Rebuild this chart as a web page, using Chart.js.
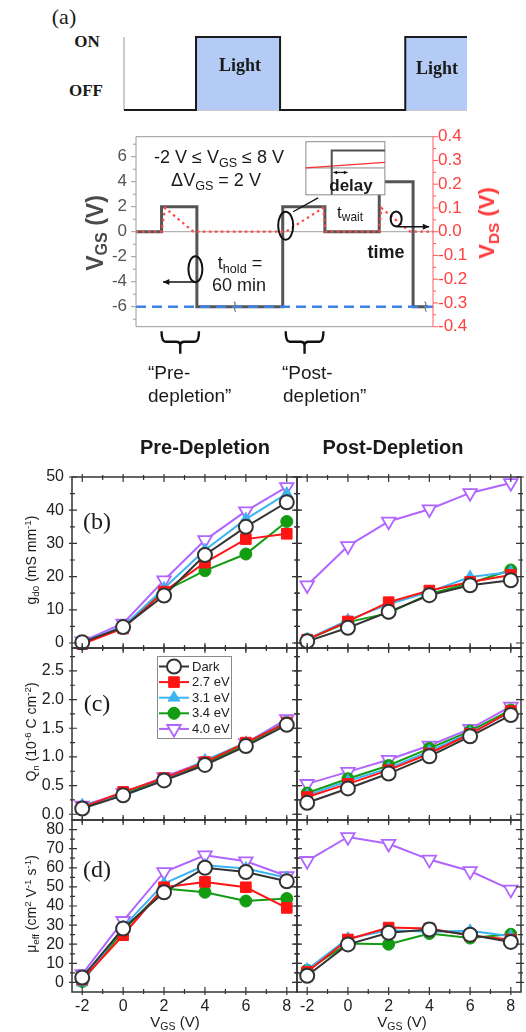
<!DOCTYPE html>
<html>
<head>
<meta charset="utf-8">
<script src="https://cdn.jsdelivr.net/npm/chart.js@4.4.1/dist/chart.umd.min.js"></script>
<style>
  html, body { margin: 0; padding: 0; background: #fff; }
  #page { position: relative; width: 526px; height: 1032px; overflow: hidden;
          font-family: "Liberation Sans", Arial, sans-serif; color: #1a1a1a; }
  #page canvas { position: absolute; }
  .t { position: absolute; white-space: nowrap; line-height: 1; transform: translate(-50%, -50%); }
  .t.l { transform: translate(0, -50%); }
  .t.rot { transform: translate(-50%, -50%) rotate(-90deg); }
  .serif { font-family: "Liberation Serif", "Times New Roman", serif; }
  sub { font-size: 0.7em; vertical-align: -0.3em; line-height: 0; }
  sup { font-size: 0.7em; vertical-align: 0.55em; line-height: 0; }
</style>
</head>
<body>
<div id="page"></div>
<script>
// ---- (a) light pulses: time (a.u.) and ON/OFF level
const lightTime = [0, 21, 21, 45.5, 45.5, 82, 82, 100];
const lightLevel = [0, 0, 1, 1, 0, 0, 1, 1];

// ---- (a) bias sequence: time (a.u.), VGS (V), VDS (V)
const waveTime = [0, 8.6, 8.6, 20.5, 20.5, 49.4, 49.4, 63.6, 63.6, 81.9, 81.9, 93.3, 93.3, 98.3];
const vgsWave = [0, 0, 2, 2, -6, -6, 2, 2, 0, 0, 4, 4, -6, -6];
const vdsTime = [0, 8.6, 9.8, 19.3, 50.4, 63.0, 63.9, 81.9, 82.6, 92.3, 100];
const vdsWave = [0, 0, 0.1, 0, 0, 0.1, 0, 0, 0.1, 0, 0];
const vgsTicks = [-6, -4, -2, 0, 2, 4, 6];
const vgsMinor = [-7, -5, -3, -1, 1, 3, 5, 7];
const vdsTicks = [-0.4, -0.3, -0.2, -0.1, 0, 0.1, 0.2, 0.3, 0.4];
const vdsMinor = [-0.35, -0.25, -0.15, -0.05, 0.05, 0.15, 0.25, 0.35];

// ---- (b)-(d) measurements
const vgs = [-2, 0, 2, 4, 6, 8];
const xTicks = [-2, 0, 2, 4, 6, 8];
const xMinor = [-1, 1, 3, 5, 7];

const gPreDark = [0.2, 4.8, 14.3, 26.5, 35.0, 42.4];
const gPre27 = [-0.3, 4.4, 15.5, 24.2, 31.3, 32.9];
const gPre31 = [0.2, 5.0, 16.5, 28.0, 37.3, 45.0];
const gPre34 = [0.0, 4.9, 15.6, 21.8, 26.8, 36.6];
const gPre40 = [0.5, 5.9, 18.9, 31.0, 39.7, 47.0];
const gPostDark = [0.5, 4.6, 9.4, 14.4, 17.4, 18.9];
const gPost27 = [1.0, 6.5, 12.3, 15.8, 18.4, 20.5];
const gPost31 = [1.2, 6.9, 11.7, 15.4, 19.9, 21.4];
const gPost34 = [1.0, 6.3, 9.0, 14.8, 18.0, 22.0];
const gPost40 = [17.4, 29.2, 36.6, 40.3, 45.2, 48.2];
const gTicks = [0, 10, 20, 30, 40, 50];
const gMinor = [5, 15, 25, 35, 45];

const qPreDark = [0.10, 0.33, 0.59, 0.86, 1.19, 1.56];
const qPre27 = [0.12, 0.39, 0.63, 0.91, 1.25, 1.60];
const qPre31 = [0.16, 0.32, 0.60, 0.94, 1.25, 1.61];
const qPre34 = [0.12, 0.35, 0.61, 0.89, 1.22, 1.60];
const qPre40 = [0.15, 0.37, 0.65, 0.92, 1.24, 1.66];
const qPostDark = [0.20, 0.45, 0.71, 1.01, 1.36, 1.73];
const qPost27 = [0.30, 0.53, 0.77, 1.06, 1.40, 1.80];
const qPost31 = [0.33, 0.58, 0.80, 1.10, 1.42, 1.78];
const qPost34 = [0.37, 0.62, 0.85, 1.15, 1.45, 1.82];
const qPost40 = [0.53, 0.74, 0.95, 1.20, 1.49, 1.88];
const qTicks = [0, 0.5, 1.0, 1.5, 2.0, 2.5];
const qMinor = [0.25, 0.75, 1.25, 1.75, 2.25, 2.75];

const mPreDark = [2.6, 28.2, 47.2, 60.0, 57.8, 52.9];
const mPre27 = [1.5, 24.7, 49.8, 52.6, 49.8, 39.0];
const mPre31 = [0.0, 29.0, 51.7, 61.3, 59.6, 54.8];
const mPre34 = [0.5, 27.0, 49.2, 47.2, 42.6, 43.9];
const mPre40 = [4.4, 32.2, 57.8, 66.5, 63.4, 55.7];
const mPostDark = [3.5, 19.9, 26.0, 27.7, 25.0, 21.2];
const mPost27 = [5.5, 22.5, 28.7, 28.2, 24.5, 22.5];
const mPost31 = [6.8, 23.0, 27.3, 26.5, 27.0, 24.2];
const mPost34 = [6.4, 20.4, 20.0, 25.6, 23.2, 25.2];
const mPost40 = [63.6, 76.1, 72.6, 64.3, 58.3, 48.6];
const mTicks = [0, 10, 20, 30, 40, 50, 60, 70, 80];
const mMinor = [5, 15, 25, 35, 45, 55, 65, 75];

const seriesNames = ["Dark", "2.7 eV", "3.1 eV", "3.4 eV", "4.0 eV"];

const seriesStyle = [
  { color: "#333333", fill: "#ffffff", shape: "circle", r: 7, bw: 2 },
  { color: "#ff1414", fill: "#ff1414", shape: "rect", r: 7.5, bw: 1 },
  { color: "#3cb4f2", fill: "#3cb4f2", shape: "triangle", r: 6.8, bw: 1 },
  { color: "#129c12", fill: "#129c12", shape: "circle", r: 6, bw: 1 },
  { color: "#b065ff", fill: "#ffffff", shape: "triangle", r: 7.8, bw: 1.8, rot: 180 }
];

Chart.defaults.font.family = '"Liberation Sans", Arial, sans-serif';
Chart.defaults.color = "#222";
Chart.defaults.animation = false;
Chart.defaults.events = [];
Chart.defaults.plugins.legend.display = false;
Chart.defaults.plugins.tooltip.enabled = false;

const page = document.getElementById("page");
const noGrid = { display: false, drawTicks: false };

function mount(area, box, axes) {
  const c = document.createElement("canvas");
  const w = box.r - box.l, h = box.b - box.t;
  c.width = w; c.height = h;
  c.style.left = box.l + "px"; c.style.top = box.t + "px";
  c.style.width = w + "px"; c.style.height = h + "px";
  page.appendChild(c);
  return {
    canvas: c,
    padding: {
      left: area.l - box.l - (axes.left || 0),
      right: box.r - area.r - (axes.right || 0),
      top: area.t - box.t,
      bottom: box.b - area.b - (axes.bottom || 0)
    }
  };
}

function fixSize(size) {
  return (s) => {
    if (s.isHorizontal()) s.height = size; else s.width = size;
    s.paddingTop = s.paddingBottom = s.paddingLeft = s.paddingRight = 0;
  };
}

function useTicks(list) {
  return (s) => { s.ticks = list.map((v) => ({ value: v })); };
}

function label(html, x, y, style, cls) {
  const d = document.createElement("div");
  d.className = "t " + (cls || "");
  d.innerHTML = html;
  d.style.cssText = "left:" + x + "px;top:" + y + "px;" + (style || "");
  page.appendChild(d);
}

function arrow(ctx, x1, y1, x2, y2, head) {
  ctx.beginPath(); ctx.moveTo(x1, y1); ctx.lineTo(x2, y2); ctx.stroke();
  const ang = Math.atan2(y2 - y1, x2 - x1);
  ctx.beginPath();
  ctx.moveTo(x2, y2);
  ctx.lineTo(x2 - head * Math.cos(ang - 0.45), y2 - head * Math.sin(ang - 0.45));
  ctx.lineTo(x2 - head * Math.cos(ang + 0.45), y2 - head * Math.sin(ang + 0.45));
  ctx.closePath(); ctx.fill();
}

function xy(xs, ys) {
  return xs.map((x, i) => ({ x: x, y: ys[i] }));
}

// ---------- light ON/OFF strip
(function () {
  const area = { l: 124, r: 467, t: 37, b: 110 };
  const m = mount(area, { l: 110, r: 480, t: 25, b: 122 }, {});
  const axes = {
    id: "lightAxes",
    beforeDatasetsDraw(chart) {
      const { ctx, chartArea: a } = chart;
      ctx.save();
      ctx.strokeStyle = "#9a9a9a"; ctx.lineWidth = 1;
      ctx.beginPath();
      ctx.moveTo(a.left, a.top); ctx.lineTo(a.left, a.bottom); ctx.lineTo(a.right, a.bottom);
      ctx.stroke();
      ctx.restore();
    }
  };
  new Chart(m.canvas, {
    type: "scatter",
    data: {
      datasets: [{
        data: xy(lightTime, lightLevel),
        showLine: true, fill: "origin",
        borderColor: "#1a1a1a", borderWidth: 2, backgroundColor: "#b3cbf5",
        pointRadius: 0, clip: false
      }]
    },
    options: {
      responsive: false,
      layout: { padding: m.padding, autoPadding: false },
      scales: {
        x: { type: "linear", min: 0, max: 100, ticks: { display: false }, grid: noGrid,
             border: { display: false }, afterFit: fixSize(0) },
        y: { min: 0, max: 1, ticks: { display: false }, grid: noGrid,
             border: { display: false }, afterFit: fixSize(0) }
      }
    },
    plugins: [axes]
  });
})();

// ---------- bias sequence diagram
(function () {
  const area = { l: 136, r: 433, t: 136.7, b: 326.7 };
  const m = mount(area, { l: 60, r: 526, t: 120, b: 365 }, { left: 40, right: 40 });
  const schematic = {
    id: "schematic",
    afterDraw(chart) {
      const { ctx, chartArea: a, scales } = chart;
      const px = (t) => scales.x.getPixelForValue(t);
      const py = (v) => scales.y.getPixelForValue(v);
      const pr = (v) => scales.y2.getPixelForValue(v);
      ctx.save();
      // frame
      ctx.lineWidth = 1;
      ctx.strokeStyle = "#9a9a9a";
      ctx.beginPath();
      ctx.moveTo(a.right, a.top); ctx.lineTo(a.left, a.top);
      ctx.lineTo(a.left, a.bottom); ctx.lineTo(a.right, a.bottom);
      ctx.stroke();
      ctx.beginPath();
      vgsTicks.forEach((v) => { ctx.moveTo(a.left - 5, py(v)); ctx.lineTo(a.left, py(v)); });
      vgsMinor.forEach((v) => { ctx.moveTo(a.left - 3, py(v)); ctx.lineTo(a.left, py(v)); });
      ctx.stroke();
      ctx.strokeStyle = "#ff5a5a";
      ctx.beginPath();
      ctx.moveTo(a.right, a.top); ctx.lineTo(a.right, a.bottom);
      vdsTicks.forEach((v) => { ctx.moveTo(a.right, pr(v)); ctx.lineTo(a.right + 5, pr(v)); });
      vdsMinor.forEach((v) => { ctx.moveTo(a.right, pr(v)); ctx.lineTo(a.right + 3, pr(v)); });
      ctx.stroke();

      // break marks on the -6 V level
      ctx.strokeStyle = "#777"; ctx.lineWidth = 1.2;
      [33.3, 97.5].forEach((t) => {
        const cx = px(t), cy = py(-6);
        ctx.beginPath();
        ctx.moveTo(cx - 1, cy - 5);
        ctx.bezierCurveTo(cx + 3, cy - 3, cx - 3, cy + 2, cx + 1, cy + 5);
        ctx.stroke();
      });

      // inset: delay detail
      const il = px(57.2), ir = px(83.8), it = py(7.2), ib = py(2.95);
      ctx.fillStyle = "#fff"; ctx.fillRect(il, it, ir - il, ib - it);
      ctx.strokeStyle = "#8a8a8a"; ctx.lineWidth = 1;
      ctx.strokeRect(il, it, ir - il, ib - it);
      ctx.beginPath(); ctx.moveTo(il, py(5.1)); ctx.lineTo(ir, py(5.1)); ctx.stroke();
      ctx.strokeStyle = "#ff3030"; ctx.lineWidth = 1.2;
      ctx.beginPath(); ctx.moveTo(il, py(5.1)); ctx.lineTo(ir, py(5.55)); ctx.stroke();
      ctx.strokeStyle = "#505050"; ctx.lineWidth = 2;
      ctx.beginPath(); ctx.moveTo(px(65.9), ib); ctx.lineTo(px(65.9), py(6.5)); ctx.lineTo(ir, py(6.5)); ctx.stroke();
      ctx.strokeStyle = "#111"; ctx.fillStyle = "#111"; ctx.lineWidth = 1.3;
      arrow(ctx, px(68.8), py(4.74), px(71.2), py(4.74), 4);
      arrow(ctx, px(68.8), py(4.74), px(66.5), py(4.74), 4);
      ctx.beginPath(); ctx.moveTo(px(61.3), py(2.71)); ctx.lineTo(px(52.9), py(1.6)); ctx.stroke();

      // ellipses and arrows pointing to their axes
      ctx.lineWidth = 2;
      ctx.beginPath(); ctx.ellipse(px(50.4), py(0.48), 7.5, 14, 0, 0, 2 * Math.PI); ctx.stroke();
      ctx.beginPath(); ctx.ellipse(px(20.0), py(-3.0), 7, 13, 0, 0, 2 * Math.PI); ctx.stroke();
      ctx.beginPath(); ctx.ellipse(px(87.6), py(1.02), 5.5, 7.5, 0, 0, 2 * Math.PI); ctx.stroke();
      ctx.lineWidth = 1.6;
      arrow(ctx, px(19.9), py(-4.02), px(9.1), py(-4.02), 7);
      arrow(ctx, px(87.9), py(0.4), px(98.7), py(0.4), 7);

      // braces under the sampled pulses
      ctx.strokeStyle = "#111"; ctx.lineWidth = 2.4;
      [[8.6, 21.2], [50.4, 63.1]].forEach(([t0, t1]) => {
        const l = px(t0), r = px(t1), c = (l + r) / 2;
        const top = a.bottom + 4.5, mid = a.bottom + 15, bot = a.bottom + 27, k = 4;
        ctx.beginPath();
        ctx.moveTo(l, top); ctx.quadraticCurveTo(l, mid, l + k, mid);
        ctx.lineTo(c - k, mid); ctx.quadraticCurveTo(c, mid, c, mid + k); ctx.lineTo(c, bot);
        ctx.moveTo(r, top); ctx.quadraticCurveTo(r, mid, r - k, mid);
        ctx.lineTo(c + k, mid); ctx.quadraticCurveTo(c, mid, c, mid + k);
        ctx.stroke();
      });
      ctx.restore();
    }
  };
  new Chart(m.canvas, {
    type: "scatter",
    data: {
      datasets: [
        { data: xy([0, 100], [-6, -6]), showLine: true, borderColor: "#3a82ea", borderWidth: 2.6,
          borderDash: [10, 6], pointRadius: 0, clip: false },
        { data: xy(vdsTime, vdsWave), yAxisID: "y2", showLine: true, borderColor: "#ff4a4a",
          borderWidth: 2.2, borderDash: [2.5, 3.5], pointRadius: 0, clip: false },
        { data: xy(waveTime, vgsWave), showLine: true, borderColor: "#555555", borderWidth: 3,
          pointRadius: 0, clip: false },
        { data: xy([0, 100], [0, 0]), showLine: true, borderColor: "#a0a0a0", borderWidth: 1,
          pointRadius: 0, clip: false }
      ]
    },
    options: {
      responsive: false,
      layout: { padding: m.padding, autoPadding: false },
      scales: {
        x: { type: "linear", min: 0, max: 100, ticks: { display: false }, grid: noGrid,
             border: { display: false }, afterFit: fixSize(0) },
        y: { position: "left", min: -7.6, max: 7.6, afterBuildTicks: useTicks(vgsTicks),
             grid: noGrid, border: { display: false }, afterFit: fixSize(40),
             ticks: { padding: 9, color: "#555", font: { size: 17 }, autoSkip: false,
                      callback: (v) => String(v) } },
        y2: { position: "right", min: -0.4, max: 0.4, afterBuildTicks: useTicks(vdsTicks),
              grid: noGrid, border: { display: false }, afterFit: fixSize(40),
              ticks: { padding: 5, color: "#ff4040", font: { size: 17 }, autoSkip: false,
                       callback: (v) => v.toFixed(1) } }
      }
    },
    plugins: [schematic]
  });
})();

// ---------- (b)-(d) panels
const rowT = [477, 648, 820];
const rowH = [171, 172, 172];

function makeSet(values, st, name) {
  return {
    label: name,
    data: xy(vgs, values),
    showLine: true,
    borderColor: st.color, backgroundColor: st.fill, borderWidth: 2,
    pointStyle: st.shape, pointRadius: st.r, pointRotation: st.rot || 0,
    pointBackgroundColor: st.fill, pointBorderColor: st.color, pointBorderWidth: st.bw,
    clip: false
  };
}

function framePlugin(yMajor, yMinor) {
  return {
    id: "frame",
    afterDatasetsDraw(chart) {
      const { ctx, chartArea: a, scales: { x, y } } = chart;
      ctx.save();
      ctx.strokeStyle = "#333";
      ctx.lineWidth = 1.5;
      ctx.strokeRect(a.left, a.top, a.right - a.left, a.bottom - a.top);
      ctx.lineWidth = 1.2;
      ctx.beginPath();
      const xt = (vals, inn, out) => vals.forEach((v) => {
        const p = x.getPixelForValue(v);
        ctx.moveTo(p, a.top - out); ctx.lineTo(p, a.top + inn);
        ctx.moveTo(p, a.bottom + out); ctx.lineTo(p, a.bottom - inn);
      });
      const yt = (vals, inn, out) => vals.forEach((v) => {
        const p = y.getPixelForValue(v);
        ctx.moveTo(a.left - out, p); ctx.lineTo(a.left + inn, p);
        ctx.moveTo(a.right + out, p); ctx.lineTo(a.right - inn, p);
      });
      xt(xTicks, 5, 3); xt(xMinor, 3, 2);
      yt(yMajor, 5, 3); yt(yMinor, 3, 2);
      ctx.stroke();
      ctx.restore();
    }
  };
}

const boxLegend = {
  id: "boxLegend",
  afterDraw(chart) {
    const { ctx, chartArea: a } = chart;
    const x0 = a.left + 85, y0 = a.top + 8, w = 74, h = 82;
    ctx.save();
    ctx.fillStyle = "#fff"; ctx.fillRect(x0, y0, w, h);
    ctx.strokeStyle = "#8a8a8a"; ctx.lineWidth = 1;
    ctx.strokeRect(x0 + 0.5, y0 + 0.5, w, h);
    ctx.font = '13px "Liberation Sans", Arial, sans-serif';
    ctx.textBaseline = "middle";
    seriesStyle.forEach((st, i) => {
      const yy = y0 + 10.5 + i * 15.6, cx = x0 + 17;
      ctx.strokeStyle = st.color; ctx.lineWidth = 2;
      ctx.beginPath(); ctx.moveTo(x0 + 2, yy); ctx.lineTo(x0 + 32, yy); ctx.stroke();
      ctx.fillStyle = st.fill; ctx.lineWidth = st.bw;
      Chart.helpers.drawPoint(ctx, { pointStyle: st.shape, radius: st.r, rotation: st.rot || 0,
                                     borderWidth: st.bw }, cx, yy);
      ctx.fillStyle = "#222";
      ctx.fillText(seriesNames[i], x0 + 35, yy + 0.5);
    });
    ctx.restore();
  }
};

function panel(col, row, series, yMin, yMax, yMajor, yMinor, fmt, extra) {
  const area = { l: col ? 297 : 72, r: col ? 521 : 297, t: rowT[row], b: rowT[row] + rowH[row] };
  const box = { l: area.l - 52, r: area.r + 5, t: area.t - 12, b: area.b + 32 };
  const m = mount(area, box, { left: 40, bottom: 24 });
  new Chart(m.canvas, {
    type: "scatter",
    data: { datasets: series.map((vals, i) => makeSet(vals, seriesStyle[i], seriesNames[i])) },
    options: {
      responsive: false,
      layout: { padding: m.padding, autoPadding: false },
      scales: {
        x: { type: "linear", min: -2.5, max: 8.5, afterBuildTicks: useTicks(xTicks),
             grid: noGrid, border: { display: false }, afterFit: fixSize(24),
             ticks: { display: row === 2, padding: 5, color: "#222", font: { size: 16 },
                      autoSkip: false } },
        y: { min: yMin, max: yMax, afterBuildTicks: useTicks(yMajor),
             grid: noGrid, border: { display: false }, afterFit: fixSize(40),
             ticks: { display: col === 0, padding: 8, color: "#222", font: { size: 16 },
                      autoSkip: false, callback: fmt } }
      }
    },
    plugins: [framePlugin(yMajor, yMinor)].concat(extra || [])
  });
}

const intFmt = (v) => String(v);
const oneFmt = (v) => v.toFixed(1);

panel(0, 0, [gPreDark, gPre27, gPre31, gPre34, gPre40], -1.5, 50, gTicks, gMinor, intFmt);
panel(1, 0, [gPostDark, gPost27, gPost31, gPost34, gPost40], -1.5, 50, gTicks, gMinor, intFmt);
panel(0, 1, [qPreDark, qPre27, qPre31, qPre34, qPre40], -0.1, 2.9, qTicks, qMinor, oneFmt, [boxLegend]);
panel(1, 1, [qPostDark, qPost27, qPost31, qPost34, qPost40], -0.1, 2.9, qTicks, qMinor, oneFmt);
panel(0, 2, [mPreDark, mPre27, mPre31, mPre34, mPre40], -5, 85, mTicks, mMinor, intFmt);
panel(1, 2, [mPostDark, mPost27, mPost31, mPost34, mPost40], -5, 85, mTicks, mMinor, intFmt);

// ---------- text
label("(a)", 64, 17, "font-size:22px;", "serif");
label("ON", 87, 41, "font-size:17px;font-weight:bold;", "serif");
label("OFF", 86, 90, "font-size:17px;font-weight:bold;", "serif");
label("Light", 240, 65, "font-size:18px;font-weight:bold;", "serif");
label("Light", 437, 68, "font-size:18px;font-weight:bold;", "serif");

label("-2 V ≤ V<sub>GS</sub> ≤ 8 V", 219, 157, "font-size:18px;");
label("ΔV<sub>GS</sub> = 2 V", 216, 180, "font-size:18px;");
label("delay", 351, 185, "font-size:17px;font-weight:bold;");
label("t<sub>wait</sub>", 350, 212, "font-size:17px;");
label("t<sub>hold</sub> =", 240, 263, "font-size:18px;");
label("60 min", 239, 285, "font-size:18px;");
label("time", 386, 252, "font-size:18px;font-weight:bold;");
label("V<sub>GS</sub> (V)", 95, 233, "font-size:23px;font-weight:bold;color:#4a4a4a;", "rot");
label("V<sub>DS</sub> (V)", 487, 223, "font-size:22px;font-weight:bold;color:#ff3b3b;", "rot");

label("“Pre-", 148, 372, "font-size:19px;", "l");
label("depletion”", 148, 395, "font-size:19px;", "l");
label("“Post-", 282, 372, "font-size:19px;", "l");
label("depletion”", 283, 395, "font-size:19px;", "l");

label("Pre-Depletion", 205, 447, "font-size:20px;font-weight:bold;");
label("Post-Depletion", 393, 447, "font-size:20px;font-weight:bold;");

label("(b)", 97, 521, "font-size:24px;", "serif");
label("(c)", 97, 703, "font-size:24px;", "serif");
label("(d)", 97, 869, "font-size:24px;", "serif");

label("g<sub>d0</sub> (mS mm<sup>-1</sup>)", 31, 560, "font-size:14px;", "rot");
label("Q<sub>n</sub> (10<sup>-6</sup> C cm<sup>-2</sup>)", 31, 732, "font-size:14px;", "rot");
label("μ<sub>eff</sub> (cm<sup>2</sup> V<sup>-1</sup> s<sup>-1</sup>)", 31, 904, "font-size:14px;", "rot");
label("V<sub>GS</sub> (V)", 175, 1021, "font-size:15px;");
label("V<sub>GS</sub> (V)", 402, 1021, "font-size:15px;");
</script>
</body>
</html>
